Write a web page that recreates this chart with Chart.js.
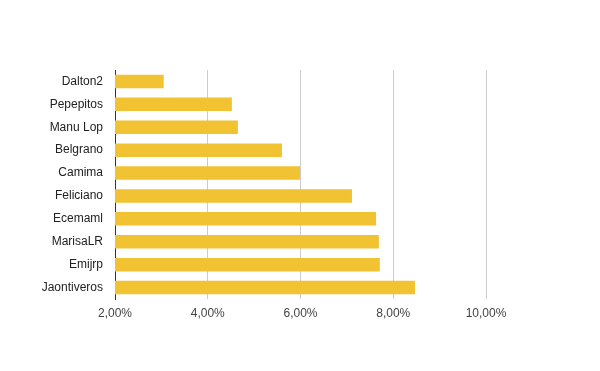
<!DOCTYPE html>
<html>
<head>
<meta charset="utf-8">
<script src="https://cdn.jsdelivr.net/npm/chart.js@4"></script>
<style>
  html, body { margin: 0; padding: 0; background: #fff; }
  #wrap { width: 600px; height: 371px; }
</style>
</head>
<body>
<div id="wrap"><canvas id="bar-chart"></canvas></div>
<script>
const users = ['Dalton2', 'Pepepitos', 'Manu Lop', 'Belgrano', 'Camima', 'Feliciano', 'Ecemaml', 'MarisaLR', 'Emijrp', 'Jaontiveros']
const shares = [3.05, 4.52, 4.65, 5.60, 5.99, 7.11, 7.63, 7.69, 7.71, 8.47]
const tickValues = [2, 4, 6, 8, 10]

const fmt = v => v.toFixed(2).replace('.', ',') + '%'

const ctx = document.getElementById('bar-chart').getContext('2d')
const chart = new Chart(ctx, {
    type: 'bar',
    data: {
        labels: users,
        datasets: [{
            data: shares,
            backgroundColor: '#f1c232',
            categoryPercentage: 1,
            barPercentage: 0.59
        }]
    },
    options: {
        indexAxis: 'y',
        responsive: true,
        maintainAspectRatio: false,
        animation: false,
        layout: { padding: { top: 70, right: 114, left: 0, bottom: 0 } },
        plugins: {
            legend: { display: false },
            tooltip: { enabled: false }
        },
        scales: {
            x: {
                min: 2,
                max: 10,
                afterBuildTicks: axis => { axis.ticks = tickValues.map(v => ({ value: v })) },
                afterFit: axis => { axis.height = 72 },
                border: { display: false },
                grid: { color: '#cccccc', drawTicks: false },
                ticks: {
                    padding: 7,
                    color: '#444',
                    font: { family: 'Liberation Sans, Arial', size: 12 },
                    callback: v => fmt(v)
                }
            },
            y: {
                afterFit: axis => { axis.width = 115 },
                border: { display: true, color: '#333', width: 1 },
                grid: { display: false, drawTicks: false },
                ticks: {
                    padding: 12,
                    color: '#222',
                    font: { family: 'Liberation Sans, Arial', size: 12 }
                }
            }
        }
    }
})
</script>
</body>
</html>
